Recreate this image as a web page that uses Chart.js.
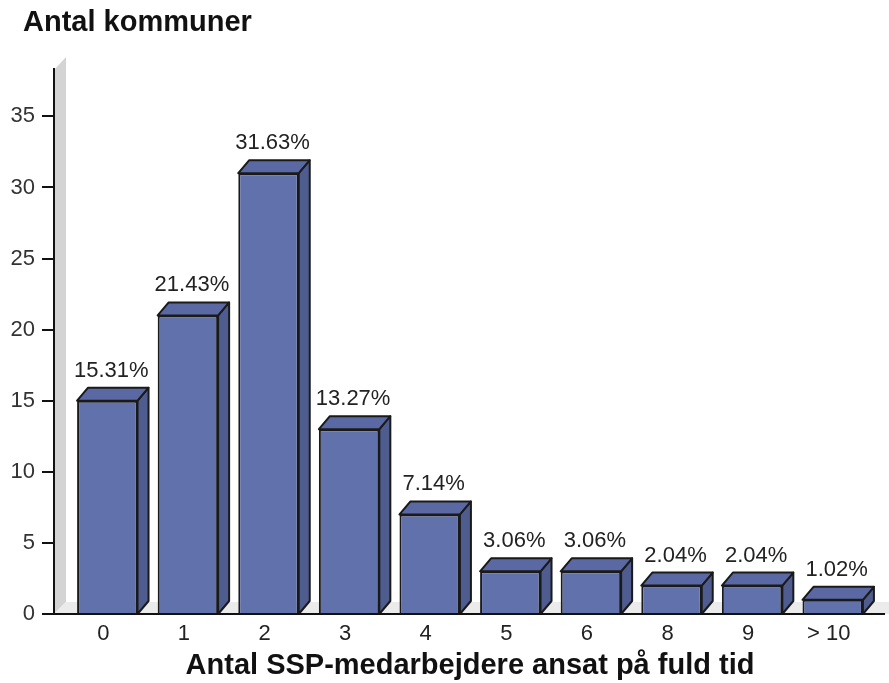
<!DOCTYPE html>
<html>
<head>
<meta charset="utf-8">
<script src="https://cdn.jsdelivr.net/npm/chart.js@4/dist/chart.umd.min.js"></script>
<style>
    html, body { margin: 0; padding: 0; background: #fff; }
</style>
</head>
<body>
<canvas id="sspChart" width="889" height="683"></canvas>
<script>
    // Data
    const categories = ['0', '1', '2', '3', '4', '5', '6', '8', '9', '> 10'];
    const counts = [15, 21, 31, 13, 7, 3, 3, 2, 2, 1];
    const percentLabels = ['15.31%', '21.43%', '31.63%', '13.27%', '7.14%', '3.06%', '3.06%', '2.04%', '2.04%', '1.02%'];
    const yTicks = [0, 5, 10, 15, 20, 25, 30, 35];
    const yTitle = 'Antal kommuner';
    const xTitle = 'Antal SSP-medarbejdere ansat på fuld tid';

    const FONT = '"Liberation Sans", Arial, sans-serif';
    const DX = 11, DY = 13;   // depth of the 3D effect

    const ctx = document.getElementById('sspChart').getContext('2d');

    // draws wall, floor, axes, bar sides/tops, the % labels and the top-left title
    const depth3d = {
        id: 'depth3d',
        beforeDatasetsDraw(chart) {
            const c = chart.ctx, a = chart.chartArea;
            const y0 = chart.scales.y.getPixelForValue(0);
            const ax = a.left - 13;
            c.save();
            // left wall
            c.fillStyle = '#d4d4d4';
            c.beginPath();
            c.moveTo(ax, y0);
            c.lineTo(ax, a.top + 2);
            c.lineTo(ax + 12, a.top - 11);
            c.lineTo(ax + 12, y0 - 12);
            c.closePath();
            c.fill();
            // floor
            c.fillStyle = '#ebebeb';
            c.beginPath();
            c.moveTo(ax, y0);
            c.lineTo(ax + 12, y0 - 12);
            c.lineTo(chart.width, y0 - 12);
            c.lineTo(chart.width, y0);
            c.closePath();
            c.fill();
            c.restore();
        },
        afterDatasetsDraw(chart) {
            const c = chart.ctx, a = chart.chartArea;
            const ys = chart.scales.y;
            const y0 = ys.getPixelForValue(0);
            const ax = a.left - 13;
            const meta = chart.getDatasetMeta(0);
            c.save();
            c.lineWidth = 2;
            c.lineJoin = 'round';
            c.strokeStyle = '#1a1a1a';
            meta.data.forEach((bar, i) => {
                const l = bar.x - bar.width / 2, r = bar.x + bar.width / 2, t = bar.y, b = bar.base;
                // side
                c.fillStyle = '#4f5c90';
                c.beginPath();
                c.moveTo(r, b);
                c.lineTo(r + DX, b - DY);
                c.lineTo(r + DX, t - DY);
                c.lineTo(r, t);
                c.closePath();
                c.fill();
                c.stroke();
                // top
                c.fillStyle = '#5a69a4';
                c.beginPath();
                c.moveTo(l, t);
                c.lineTo(l + DX, t - DY);
                c.lineTo(r + DX, t - DY);
                c.lineTo(r, t);
                c.closePath();
                c.fill();
                c.stroke();
                // value label
                c.fillStyle = '#222';
                c.font = '22px ' + FONT;
                c.textAlign = 'center';
                c.textBaseline = 'alphabetic';
                c.fillText(percentLabels[i], bar.x + 4, t - DY - 11);
            });
            // axes
            c.strokeStyle = '#111';
            c.lineWidth = 2;
            c.beginPath();
            c.moveTo(ax, a.top);
            c.lineTo(ax, y0);
            c.moveTo(ax - 12, y0);
            c.lineTo(chart.width - 4, y0);
            yTicks.forEach(v => {
                const py = Math.round(ys.getPixelForValue(v));
                c.moveTo(ax - 12, py);
                c.lineTo(ax, py);
            });
            c.stroke();
            // title in the top-left corner
            c.fillStyle = '#111';
            c.font = 'bold 29px ' + FONT;
            c.textAlign = 'left';
            c.textBaseline = 'middle';
            c.fillText(yTitle, 23, 23);
            c.restore();
        }
    };

    const sspChart = new Chart(ctx, {
        type: 'bar',
        data: {
            labels: categories,
            datasets: [{
                label: yTitle,
                data: counts,
                backgroundColor: '#6171ab',
                borderColor: '#1a1a1a',
                borderWidth: 2,
                barPercentage: 0.75,
                categoryPercentage: 1
            }]
        },
        plugins: [depth3d],
        options: {
            responsive: false,
            animation: false,
            layout: {
                padding: { left: 0, right: 16, top: 68, bottom: 0 }
            },
            plugins: {
                legend: { display: false },
                tooltip: { enabled: false },
                title: { display: false }
            },
            scales: {
                x: {
                    offset: true,
                    grid: { display: false, drawTicks: false },
                    border: { display: false },
                    ticks: {
                        color: '#222',
                        font: { family: FONT, size: 22 },
                        padding: 7,
                        labelOffset: -4
                    },
                    title: {
                        display: true,
                        text: xTitle,
                        color: '#111',
                        font: { family: FONT, size: 29, weight: 'bold', lineHeight: 1 },
                        padding: { top: 0, bottom: 3 }
                    },
                    afterFit: s => { s.height = 69; }
                },
                y: {
                    min: 0,
                    max: 38.4,
                    grid: { display: false, drawTicks: false },
                    border: { display: false },
                    ticks: {
                        stepSize: 5,
                        includeBounds: false,
                        color: '#333',
                        padding: 32,
                        font: { family: FONT, size: 22 }
                    },
                    afterFit: s => { s.width = 67; }
                }
            }
        }
    });
</script>
</body>
</html>
